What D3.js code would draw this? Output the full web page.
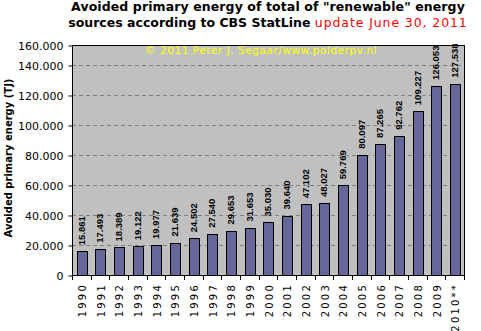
<!DOCTYPE html>
<html>
<head>
<meta charset="utf-8">
<script src="https://cdn.jsdelivr.net/npm/d3@7"></script>
<style>
  body { margin: 0; background: #fff; }
  svg text { font-family: 'DejaVu Sans', Verdana, sans-serif; }
</style>
</head>
<body>
<div id="chart"></div>
<script>
// avoided primary energy from renewables, TJ (CBS StatLine)
const years = ['1990', '1991', '1992', '1993', '1994', '1995', '1996', '1997', '1998', '1999',
               '2000', '2001', '2002', '2003', '2004', '2005', '2006', '2007', '2008', '2009', '2010**'];
const avoided = [15861, 17493, 18389, 19122, 19977, 21639, 24502, 27540, 29653, 31653,
                 35030, 39640, 47102, 48027, 59769, 80097, 87265, 92762, 109227, 126053, 127538];
const yTicks = [0, 20000, 40000, 60000, 80000, 100000, 120000, 140000, 160000];
// value reached at the top edge of the plot frame
const yTop = 153333;

const [width, height] = [481, 331];
const plot = { left: 72, right: 464, top: 45, bottom: 275 };

// dutch style number format: 127.538
const nl = d3.formatLocale({ decimal: ',', thousands: '.', grouping: [3], currency: ['', ''] });
const fmt = nl.format(',d');

const svg = d3.select('#chart')
    .append('svg')
    .attr('width', width)
    .attr('height', height);

const x = d3.scaleBand()
    .domain(years)
    .range([plot.left, plot.right])
    .paddingInner(0.49)
    .paddingOuter(0.245);

const y = d3.scaleLinear()
    .domain([0, yTop])
    .range([plot.bottom, plot.top])
    .clamp(true);

// plot background
svg.append('rect')
    .attr('x', plot.left)
    .attr('y', plot.top)
    .attr('width', plot.right - plot.left)
    .attr('height', plot.bottom - plot.top)
    .attr('fill', '#c0c0c0');

// dashed gridlines
svg.append('g')
    .selectAll('line')
    .data(yTicks.filter((d) => d > 0 && d < yTop))
    .join('line')
    .attr('x1', plot.left)
    .attr('x2', plot.right)
    .attr('y1', (d) => Math.round(y(d)) + 0.5)
    .attr('y2', (d) => Math.round(y(d)) + 0.5)
    .attr('stroke', '#808080')
    .attr('stroke-dasharray', '4,3');

// copyright
svg.append('text')
    .attr('x', 145)
    .attr('y', 54)
    .attr('fill', '#ffff00')
    .style('font-size', '10.5px')
    .style('letter-spacing', '0.55px')
    .text('© 2011 Peter J. Segaar/www.polderpv.nl');

// bars
svg.append('g')
    .selectAll('rect')
    .data(avoided)
    .join('rect')
    .attr('x', (d, i) => Math.round(x(years[i])) + 0.5)
    .attr('y', (d) => Math.round(y(d)) + 0.5)
    .attr('width', Math.round(x.bandwidth()))
    .attr('height', (d) => Math.round(y(0)) - Math.round(y(d)))
    .attr('fill', '#666699')
    .attr('stroke', '#000');

// value labels above bars
svg.append('g')
    .selectAll('text')
    .data(avoided)
    .join('text')
    .attr('transform', (d, i) =>
        `translate(${x(years[i]) + x.bandwidth() / 2},${y(d) - 6}) rotate(-90)`)
    .attr('dy', '0.36em')
    .style('font-family', "'Liberation Sans', Arial, sans-serif")
    .style('font-weight', 'bold')
    .style('font-size', '9.5px')
    .text((d) => fmt(d));

// plot frame
svg.append('rect')
    .attr('x', plot.left + 0.5)
    .attr('y', plot.top + 0.5)
    .attr('width', plot.right - plot.left)
    .attr('height', plot.bottom - plot.top)
    .attr('fill', 'none')
    .attr('stroke', '#000');

// y axis
const yAxis = d3.axisLeft(y)
    .tickValues(yTicks)
    .tickSize(4)
    .tickPadding(5)
    .tickFormat((d) => fmt(d));

const gy = svg.append('g')
    .attr('transform', `translate(${plot.left + 0.5},0.5)`)
    .call(yAxis);
gy.select('.domain').remove();
gy.selectAll('text')
    .style('font-family', "'DejaVu Sans', Verdana, sans-serif")
    .style('font-size', '11px')
    .attr('fill', '#000');

// x axis: ticks on category boundaries
const bounds = years.map((d) => x(d) - x.step() * x.paddingInner() / 2);
bounds.push(plot.right);
svg.append('g')
    .selectAll('line')
    .data(bounds)
    .join('line')
    .attr('x1', (d) => Math.round(d) + 0.5)
    .attr('x2', (d) => Math.round(d) + 0.5)
    .attr('y1', plot.bottom)
    .attr('y2', plot.bottom + 5)
    .attr('stroke', '#000');

svg.append('g')
    .selectAll('text')
    .data(years)
    .join('text')
    .attr('transform', (d) => `translate(${x(d) + x.bandwidth() / 2 + 1},283) rotate(-90)`)
    .attr('dy', '0.36em')
    .attr('text-anchor', 'end')
    .style('font-size', '10px')
    .style('letter-spacing', '2.2px')
    .text((d) => d);

// y axis title
svg.append('text')
    .attr('transform', 'translate(8,158) rotate(-90)')
    .attr('dy', '0.36em')
    .attr('text-anchor', 'middle')
    .style('font-weight', 'bold')
    .style('font-size', '10px')
    .text('Avoided primary energy (TJ)');

// title
const title = svg.append('text')
    .attr('text-anchor', 'middle')
    .style('font-size', '12.5px');
title.append('tspan')
    .attr('x', 268)
    .attr('y', 11)
    .style('font-weight', 'bold')
    .style('letter-spacing', '0.1px')
    .text('Avoided primary energy of total of "renewable" energy');
const t2 = title.append('tspan')
    .attr('x', 268)
    .attr('y', 27);
t2.append('tspan')
    .style('font-weight', 'bold')
    .text('sources according to CBS StatLine ');
t2.append('tspan')
    .attr('fill', '#ff0000')
    .style('letter-spacing', '0.9px')
    .text('update June 30, 2011');
</script>
</body>
</html>
